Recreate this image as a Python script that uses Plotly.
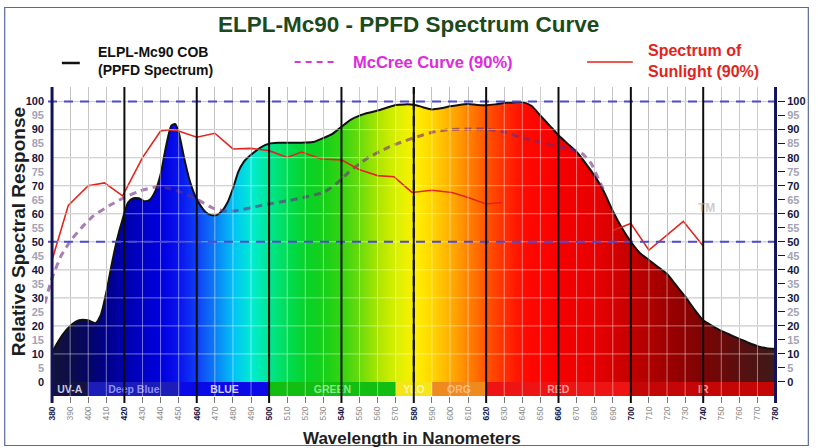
import plotly.graph_objects as go

# ---------------- data ----------------
wavelength_cob = [380, 383, 386, 390, 395, 400, 404, 407, 410, 413, 416, 419, 422, 425, 428, 431, 434,
                  437, 440, 443, 446, 448, 450, 453, 456, 459, 462, 465, 468, 471, 474, 477, 480, 483,
                  486, 490, 495, 500, 505, 510, 515, 520, 525, 530, 535, 540, 545, 550, 555, 560, 565,
                  570, 575, 580, 585, 590, 595, 600, 605, 610, 615, 620, 625, 630, 635, 640, 645, 650,
                  655, 660, 665, 670, 675, 680, 685, 690, 695, 700, 705, 710, 715, 720, 725, 730, 735,
                  740, 745, 750, 755, 760, 765, 770, 775, 780]
cob_ppfd = [10.5, 14, 17, 20, 22, 22, 21, 24, 32, 42, 51, 58, 64, 65.5, 65.5, 64.5, 65,
            68, 74, 84, 91.5, 92, 89, 80, 72, 66.5, 63, 60.5, 59.5, 59.5, 61, 64, 69, 75,
            78.5, 81, 83.5, 85, 85.3, 85.3, 85.3, 85.4, 85.7, 87, 88.5, 91, 93.5, 95, 96, 96.8, 97.8,
            98.8, 99, 98.9, 98, 97.2, 97.6, 98.3, 98.8, 99.1, 98.8, 98.7, 99, 99.5, 99.7, 99.8, 98.5, 95,
            91.5, 88, 85, 82, 78, 73.5, 68, 61, 55, 50, 46, 43.5, 41, 38.5, 34.5, 30.5, 26,
            22, 20, 18.2, 16.8, 15.4, 14, 12.8, 12, 11.8]

wavelength_sun = [380, 389, 400, 409, 419, 430, 440, 445, 450, 460, 470, 480, 490, 500, 510, 518,
                  529, 540, 550, 560, 569, 579, 590, 601, 610, 620, 629, 660, 690, 700, 710, 729, 740]
sunlight = [43.5, 63, 70, 71, 66.4, 80, 89.5, 90, 89.5, 87.3, 88.7, 83.1, 83.3, 82.5, 80.1, 82,
            79.5, 79.2, 75.7, 73.6, 73.2, 67.6, 68.4, 67.6, 65.8, 63.5, 64, None, 54, 56.5, 47, 57.3, 48.5]

wavelength_mccree = [376, 380, 385, 391, 397, 403, 412, 420, 429, 437, 445, 452, 460, 469, 475, 481,
                     491, 500, 510, 519, 530, 537, 544, 550, 555, 566, 573, 581, 592, 600, 610, 619,
                     629, 638, 650, 660, 667, 673, 678, 682, 686]
mccree = [28, 37, 45, 51, 55.5, 59.3, 63, 65.8, 68.2, 69.5, 69, 67.5, 65.2, 62, 61, 61,
          62.3, 63.5, 64.6, 65.8, 67.6, 70.6, 74.8, 77.8, 80.1, 83.7, 85.5, 87.3, 89.3, 90, 90.2, 90.2,
          89.3, 87.5, 85.5, 84, 83, 81.5, 78, 72.5, 67]

band_names = ["UV-A", "Deep Blue", "BLUE", "GREEN", "YLO", "ORG", "RED", "IR"]
band_start = [380, 400, 451, 500, 570, 590, 620, 700]
band_end = [400, 451, 500, 570, 590, 620, 700, 780]

x_ticks = list(range(380, 781, 10))
x_major = list(range(380, 781, 40))
y_ticks = list(range(0, 101, 5))

# ---------------- styles ----------------
band_colors = ["#121244", "#1c1cb8", "#0a0ae8", "#12be12", "#f5e61a", "#ee8a1e", "#ee1414", "#c40606"]
band_text_colors = ["#c8c8e0", "#8f8ff5", "#d0d0ff", "#8ae88a", "#fff7a0", "#ffb877", "#ff9c9c", "#ff9c9c"]

spectrum_stops = [
    (380, "#14143a"), (390, "#0c0c4a"), (400, "#050566"), (410, "#00008c"), (420, "#0000ac"),
    (430, "#0000c8"), (440, "#0000de"), (450, "#0814ee"), (460, "#1040f4"), (470, "#0a80f6"),
    (480, "#00c4f5"), (490, "#00ecd2"), (500, "#00e68c"), (510, "#00dc50"), (520, "#08d228"),
    (530, "#18d018"), (540, "#38d412"), (550, "#70dc0a"), (560, "#b0e600"), (570, "#dcf000"),
    (580, "#fff000"), (590, "#ffd200"), (600, "#ffaa00"), (610, "#ff7d00"), (620, "#ff5000"),
    (630, "#ff2a00"), (640, "#ff0a00"), (660, "#f50000"), (680, "#e60000"), (700, "#c00000"),
    (720, "#9a0000"), (740, "#780505"), (760, "#561010"), (780, "#3a1a1a"),
]
colorscale = [[(w - 380) / 400, c] for w, c in spectrum_stops]

W, H = 818, 448
ML, MR, MT, MB = 45, 37, 87, 52
X_RANGE = [376.1, 780.8]
Y_RANGE = [-5, 105.2]
PW, PH = W - ML - MR, H - MT - MB


def px(xp):
    return (xp - ML) / PW


def py(yp):
    return (H - MB - yp) / PH


FONT = "Liberation Sans, Arial, sans-serif"
DARK = "#17173d"

fig = go.Figure()

# spectral bands under the zero line
fig.add_trace(go.Bar(
    x=[(s + e) / 2 for s, e in zip(band_start, band_end)],
    y=[5] * len(band_names),
    base=-5,
    width=[e - s for s, e in zip(band_start, band_end)],
    marker=dict(color=band_colors, line=dict(width=0)),
    text=[f"<b>{n}</b>" for n in band_names],
    textposition="inside",
    insidetextanchor="middle",
    textangle=0,
    constraintext="none",
    textfont=dict(color=band_text_colors, size=10.5, family=FONT),
    hoverinfo="skip",
    showlegend=False,
))

# COB spectrum with rainbow fill
fig.add_trace(go.Scatter(
    x=wavelength_cob, y=cob_ppfd, mode="lines",
    line=dict(color="#111111", width=2, shape="spline", smoothing=0.6),
    fill="tozeroy",
    fillgradient=dict(type="horizontal", colorscale=colorscale, start=380, stop=780),
    showlegend=False, hoverinfo="skip",
))

# McCree curve
fig.add_trace(go.Scatter(
    x=wavelength_mccree, y=mccree, mode="lines",
    line=dict(color="rgba(110,40,130,0.6)", width=3, dash="7px,5px", shape="spline", smoothing=0.5),
    showlegend=False, hoverinfo="skip",
))

# Sunlight
fig.add_trace(go.Scatter(
    x=wavelength_sun, y=sunlight, mode="lines",
    line=dict(color="#e3241d", width=1.6),
    connectgaps=False,
    showlegend=False, hoverinfo="skip",
))

# dummy for right axis
fig.add_trace(go.Scatter(x=[None], y=[None], yaxis="y2", showlegend=False, hoverinfo="skip"))

shapes = []
for v in range(0, 101, 10):
    shapes.append(dict(type="line", xref="x", yref="y", x0=380, x1=780, y0=v, y1=v,
                       line=dict(color="#a9a9a9", width=1), layer="below"))
for v in range(10, 101, 10):
    shapes.append(dict(type="line", xref="x", yref="y", x0=380, x1=780, y0=v, y1=v,
                       line=dict(color="rgba(255,255,255,0.45)", width=1), layer="above"))
for v in x_ticks:
    if v not in x_major:
        shapes.append(dict(type="line", xref="x", yref="y", x0=v, x1=v, y0=-5, y1=Y_RANGE[1],
                           line=dict(color="rgba(255,255,255,0.45)", width=1), layer="above"))
for v in (50, 100):
    shapes.append(dict(type="line", xref="paper", yref="y", x0=px(48), x1=px(787), y0=v, y1=v,
                       line=dict(color="#4b4bd0", width=2, dash="9px,7px"), layer="above"))
for v in x_major:
    if v in (380, 780):
        col, wd = "#12125a", 3
    else:
        col, wd = "#0d0d0d", 2
    shapes.append(dict(type="line", xref="x", yref="paper", x0=v, x1=v, y0=-7 / PH, y1=1,
                       line=dict(color=col, width=wd), layer="above"))
shapes.append(dict(type="line", xref="x", yref="y", x0=580, x1=580, y0=0, y1=Y_RANGE[1],
                   line=dict(color="#0d0d0d", width=2, dash="10px,6px"), layer="above"))
# legend line samples
shapes.append(dict(type="line", xref="paper", yref="paper", x0=px(62), x1=px(80), y0=py(63), y1=py(63),
                   line=dict(color="#111111", width=2.5)))
shapes.append(dict(type="line", xref="paper", yref="paper", x0=px(296), x1=px(339), y0=py(62), y1=py(62),
                   line=dict(color="#d63ad6", width=2, dash="6px,5px")))
shapes.append(dict(type="line", xref="paper", yref="paper", x0=px(590), x1=px(636), y0=py(62), y1=py(62),
                   line=dict(color="#e3241d", width=1.6)))
# outer frame
shapes.append(dict(type="rect", xref="paper", yref="paper", x0=px(4.5), x1=px(812.5), y0=py(445.5), y1=py(7.5),
                   line=dict(color="#5a6a98", width=1.2), fillcolor="rgba(0,0,0,0)", layer="below"))

annotations = [
    dict(text="<b>ELPL-Mc90 - PPFD Spectrum Curve</b>", x=px(410), y=py(24), xref="paper", yref="paper",
         showarrow=False, font=dict(family=FONT, size=22.5, color="#1d4a1d"), xanchor="center", yanchor="middle"),
    dict(text="<b>ELPL-Mc90 COB<br>(PPFD Spectrum)</b>", x=px(96), y=py(61), xref="paper", yref="paper",
         showarrow=False, align="left", font=dict(family=FONT, size=14, color="#111111"),
         xanchor="left", yanchor="middle"),
    dict(text="<b>McCree Curve (90%)</b>", x=px(353), y=py(62), xref="paper", yref="paper",
         showarrow=False, align="left", font=dict(family=FONT, size=16.5, color="#dd2bdd"),
         xanchor="left", yanchor="middle"),
    dict(text="<b>Spectrum of<br>Sunlight (90%)</b>", x=px(649), y=py(61), xref="paper", yref="paper",
         showarrow=False, align="left", font=dict(family=FONT, size=16, color="#e3241d"),
         xanchor="left", yanchor="middle"),
    dict(text="<b>Relative Spectral Response</b>", x=px(18), y=py(232), xref="paper", yref="paper",
         showarrow=False, textangle=-90, font=dict(family=FONT, size=19, color="#1e1e1e"),
         xanchor="center", yanchor="middle"),
    dict(text="<b>Wavelength in Nanometers</b>", x=px(414), y=py(438), xref="paper", yref="paper",
         showarrow=False, font=dict(family=FONT, size=17, color="#1e1e1e"),
         xanchor="center", yanchor="middle"),
    dict(text="<b>TM</b>", x=742, y=62, xref="x", yref="y", showarrow=False,
         font=dict(family=FONT, size=12, color="rgba(170,170,170,0.6)")),
]

x_ticktext = [f"<b>{v}</b>" if v in x_major else f"<span style='color:#8c8c8c'>{v}</span>" for v in x_ticks]
y_ticktext = [f"<b>{v}</b>" if v % 10 == 0 else f"<span style='color:#a3a3b5'><b>{v}</b></span>" for v in y_ticks]

fig.update_layout(
    width=W, height=H,
    margin=dict(l=ML, r=MR, t=MT, b=MB, pad=0),
    paper_bgcolor="white", plot_bgcolor="white",
    showlegend=False,
    bargap=0,
    xaxis=dict(range=X_RANGE, tickmode="array", tickvals=x_ticks, ticktext=x_ticktext, tickangle=-90,
               ticks="outside", ticklen=6, tickcolor="#777777", showgrid=True, gridcolor="#a9a9a9",
               gridwidth=1, zeroline=False, showline=False,
               tickfont=dict(family=FONT, size=8.5, color="#1c1c4c")),
    yaxis=dict(range=Y_RANGE, tickmode="array", tickvals=y_ticks, ticktext=y_ticktext, showgrid=False,
               zeroline=False, showline=False, ticks="",
               tickfont=dict(family=FONT, size=11, color=DARK)),
    yaxis2=dict(range=Y_RANGE, overlaying="y", side="right", tickmode="array", tickvals=y_ticks,
                ticktext=y_ticktext, showgrid=False, zeroline=False, showline=False, ticks="outside",
                ticklen=7, tickcolor=DARK, tickfont=dict(family=FONT, size=11, color=DARK)),
    shapes=shapes,
    annotations=annotations,
)

fig.write_html("out.html", config={"displayModeBar": False},
               post_script="document.body.style.margin='0px';document.body.style.overflow='hidden';")
